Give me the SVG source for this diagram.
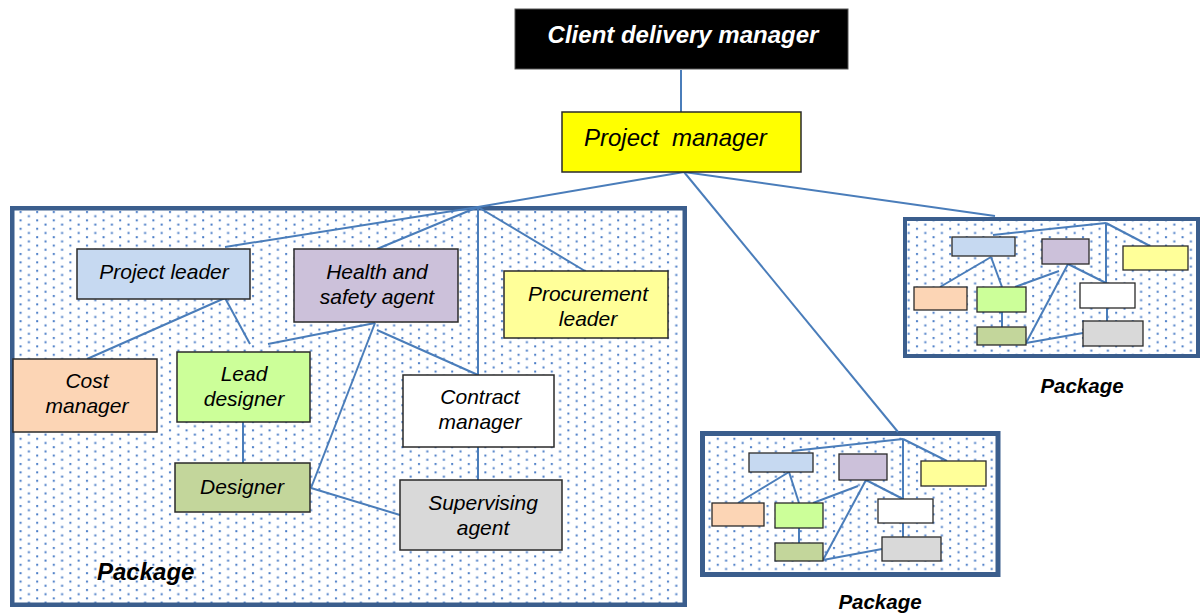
<svg xmlns="http://www.w3.org/2000/svg" width="1203" height="615" viewBox="0 0 1203 615">
<defs>
<pattern id="dots" x="0" y="0" width="16.6" height="8.4" patternUnits="userSpaceOnUse">
<rect x="3" y="1" width="2" height="2" fill="#4A7CC6"/>
<rect x="11.3" y="5.2" width="2" height="2" fill="#4A7CC6"/>
</pattern>
<style>
.pkg{fill:url(#dots);stroke:#3B5E8D}
.bg{fill:#FFFFFF;stroke:none}
.node{stroke:#2A2A2A;stroke-width:1.5}
.sn{stroke:#2A2A2A;stroke-width:1.3}
.t{font-family:"Liberation Sans",Arial,sans-serif;font-style:italic;font-size:21px;fill:#000;text-anchor:middle}
.lbl{font-family:"Liberation Sans",Arial,sans-serif;font-style:italic;font-weight:bold;fill:#000}
.c line{stroke:#4A7DBA;stroke-width:2;fill:none}
</style>
</defs>
<rect width="1203" height="615" fill="#FFFFFF"/>

<g id="package-main">
<rect class="bg" x="12" y="208" width="673" height="397"/>
<rect class="pkg" x="12.25" y="208.25" width="672.5" height="396.5" stroke-width="4.5"/>
<text class="lbl" x="97" y="580" font-size="24">Package</text>
</g>
<g id="package-right">
<rect class="bg" x="905" y="219" width="293" height="137"/>
<rect class="pkg" x="905" y="219" width="293" height="137" stroke-width="4"/>
<text class="lbl" x="1082" y="393" font-size="20.5" text-anchor="middle">Package</text>
</g>
<g id="package-middle">
<rect class="bg" x="702.5" y="433.5" width="295.5" height="141"/>
<rect class="pkg" x="702.5" y="433.5" width="295.5" height="141" stroke-width="5"/>
<text class="lbl" x="880" y="609" font-size="20.5" text-anchor="middle">Package</text>
</g>

<g id="connectors" class="c">
<line x1="681" y1="70" x2="681" y2="113"/>
<line x1="684" y1="172" x2="478" y2="207"/>
<line x1="684" y1="172" x2="995" y2="216"/>
<line x1="684" y1="172" x2="898" y2="432"/>
<line x1="478" y1="207" x2="225" y2="247"/>
<line x1="478" y1="207" x2="377" y2="249"/>
<line x1="478" y1="207" x2="478" y2="375"/>
<line x1="478" y1="207" x2="585" y2="271"/>
<line x1="225" y1="298" x2="87" y2="359"/>
<line x1="225" y1="298" x2="250" y2="344"/>
<line x1="268" y1="344" x2="375" y2="323"/>
<line x1="375" y1="323" x2="311" y2="488"/>
<line x1="377" y1="330" x2="478" y2="375"/>
<line x1="478" y1="447" x2="478" y2="480"/>
<line x1="243" y1="422" x2="243" y2="463"/>
<line x1="311" y1="488" x2="400" y2="515"/>
<line x1="1106" y1="223" x2="993" y2="235"/>
<line x1="1106" y1="223" x2="1150" y2="246"/>
<line x1="1106" y1="223" x2="1106" y2="283"/>
<line x1="991" y1="257" x2="940" y2="287"/>
<line x1="991" y1="257" x2="1002" y2="287"/>
<line x1="1015" y1="287" x2="1059" y2="271"/>
<line x1="1068" y1="264" x2="1026" y2="343"/>
<line x1="1068" y1="264" x2="1106" y2="283"/>
<line x1="1107" y1="308" x2="1107" y2="321"/>
<line x1="1002" y1="312" x2="1002" y2="327"/>
<line x1="1026" y1="343" x2="1083" y2="333"/>
<line x1="903" y1="439" x2="792" y2="451"/>
<line x1="903" y1="439" x2="947" y2="461"/>
<line x1="903" y1="439" x2="903" y2="499"/>
<line x1="789" y1="472" x2="738" y2="503"/>
<line x1="789" y1="472" x2="799" y2="503"/>
<line x1="813" y1="503" x2="858" y2="486"/>
<line x1="866" y1="480" x2="823" y2="560"/>
<line x1="866" y1="480" x2="903" y2="499"/>
<line x1="903" y1="523" x2="903" y2="537"/>
<line x1="799" y1="528" x2="799" y2="543"/>
<line x1="823" y1="560" x2="882" y2="549"/>
</g>

<g id="client-delivery-manager">
<rect x="515" y="9" width="333" height="60" fill="#000000" stroke="#555" stroke-width="1"/>
<text class="lbl" x="683" y="43" font-size="24" text-anchor="middle" style="fill:#FFFFFF">Client delivery manager</text>
</g>
<g id="project-manager">
<rect class="node" x="562" y="112" width="239" height="60" fill="#FFFF00"/>
<text class="t" x="584" y="146" style="font-size:24px;text-anchor:start" xml:space="preserve">Project  manager</text>
</g>

<g id="project-leader">
<rect class="node" x="77" y="249" width="173" height="50" fill="#C6D9F1"/>
<text class="t" x="164" y="279">Project leader</text>
</g>
<g id="health-safety-agent">
<rect class="node" x="294" y="249" width="164" height="73" fill="#CCC1DA"/>
<text class="t" x="377" y="279">Health and</text>
<text class="t" x="377" y="304">safety agent</text>
</g>
<g id="procurement-leader">
<rect class="node" x="504" y="271" width="164" height="67" fill="#FFFF99"/>
<text class="t" x="588" y="301">Procurement</text>
<text class="t" x="588" y="326">leader</text>
</g>
<g id="cost-manager">
<rect class="node" x="13" y="359" width="144" height="73" fill="#FCD5B5"/>
<text class="t" x="87" y="388">Cost</text>
<text class="t" x="87" y="413">manager</text>
</g>
<g id="lead-designer">
<rect class="node" x="177" y="352" width="133" height="70" fill="#CCFF99"/>
<text class="t" x="244" y="381">Lead</text>
<text class="t" x="244" y="406">designer</text>
</g>
<g id="contract-manager">
<rect class="node" x="403" y="375" width="151" height="72" fill="#FFFFFF"/>
<text class="t" x="480" y="404">Contract</text>
<text class="t" x="480" y="429">manager</text>
</g>
<g id="designer">
<rect class="node" x="175" y="463" width="135" height="49" fill="#C3D69B"/>
<text class="t" x="242" y="494">Designer</text>
</g>
<g id="supervising-agent">
<rect class="node" x="400" y="480" width="162" height="70" fill="#D9D9D9"/>
<text class="t" x="483" y="510">Supervising</text>
<text class="t" x="483" y="535">agent</text>
</g>

<g id="r-blue"><rect class="sn" x="952" y="237" width="63" height="19" fill="#C6D9F1"/></g>
<g id="r-purple"><rect class="sn" x="1042" y="239" width="47" height="25" fill="#CCC1DA"/></g>
<g id="r-yellow"><rect class="sn" x="1123" y="246" width="65" height="24" fill="#FFFF99"/></g>
<g id="r-peach"><rect class="sn" x="914" y="287" width="53" height="23" fill="#FCD5B5"/></g>
<g id="r-green"><rect class="sn" x="977" y="287" width="49" height="25" fill="#CCFF99"/></g>
<g id="r-white"><rect class="sn" x="1080" y="283" width="55" height="25" fill="#FFFFFF"/></g>
<g id="r-olive"><rect class="sn" x="977" y="327" width="49" height="18" fill="#C3D69B"/></g>
<g id="r-gray"><rect class="sn" x="1083" y="321" width="60" height="25" fill="#D9D9D9"/></g>

<g id="m-blue"><rect class="sn" x="749" y="453" width="64" height="19" fill="#C6D9F1"/></g>
<g id="m-purple"><rect class="sn" x="839" y="454" width="48" height="26" fill="#CCC1DA"/></g>
<g id="m-yellow"><rect class="sn" x="921" y="461" width="65" height="25" fill="#FFFF99"/></g>
<g id="m-peach"><rect class="sn" x="712" y="503" width="52" height="23" fill="#FCD5B5"/></g>
<g id="m-green"><rect class="sn" x="775" y="503" width="48" height="25" fill="#CCFF99"/></g>
<g id="m-white"><rect class="sn" x="878" y="499" width="55" height="24" fill="#FFFFFF"/></g>
<g id="m-olive"><rect class="sn" x="775" y="543" width="48" height="18" fill="#C3D69B"/></g>
<g id="m-gray"><rect class="sn" x="882" y="537" width="59" height="24" fill="#D9D9D9"/></g>
</svg>
